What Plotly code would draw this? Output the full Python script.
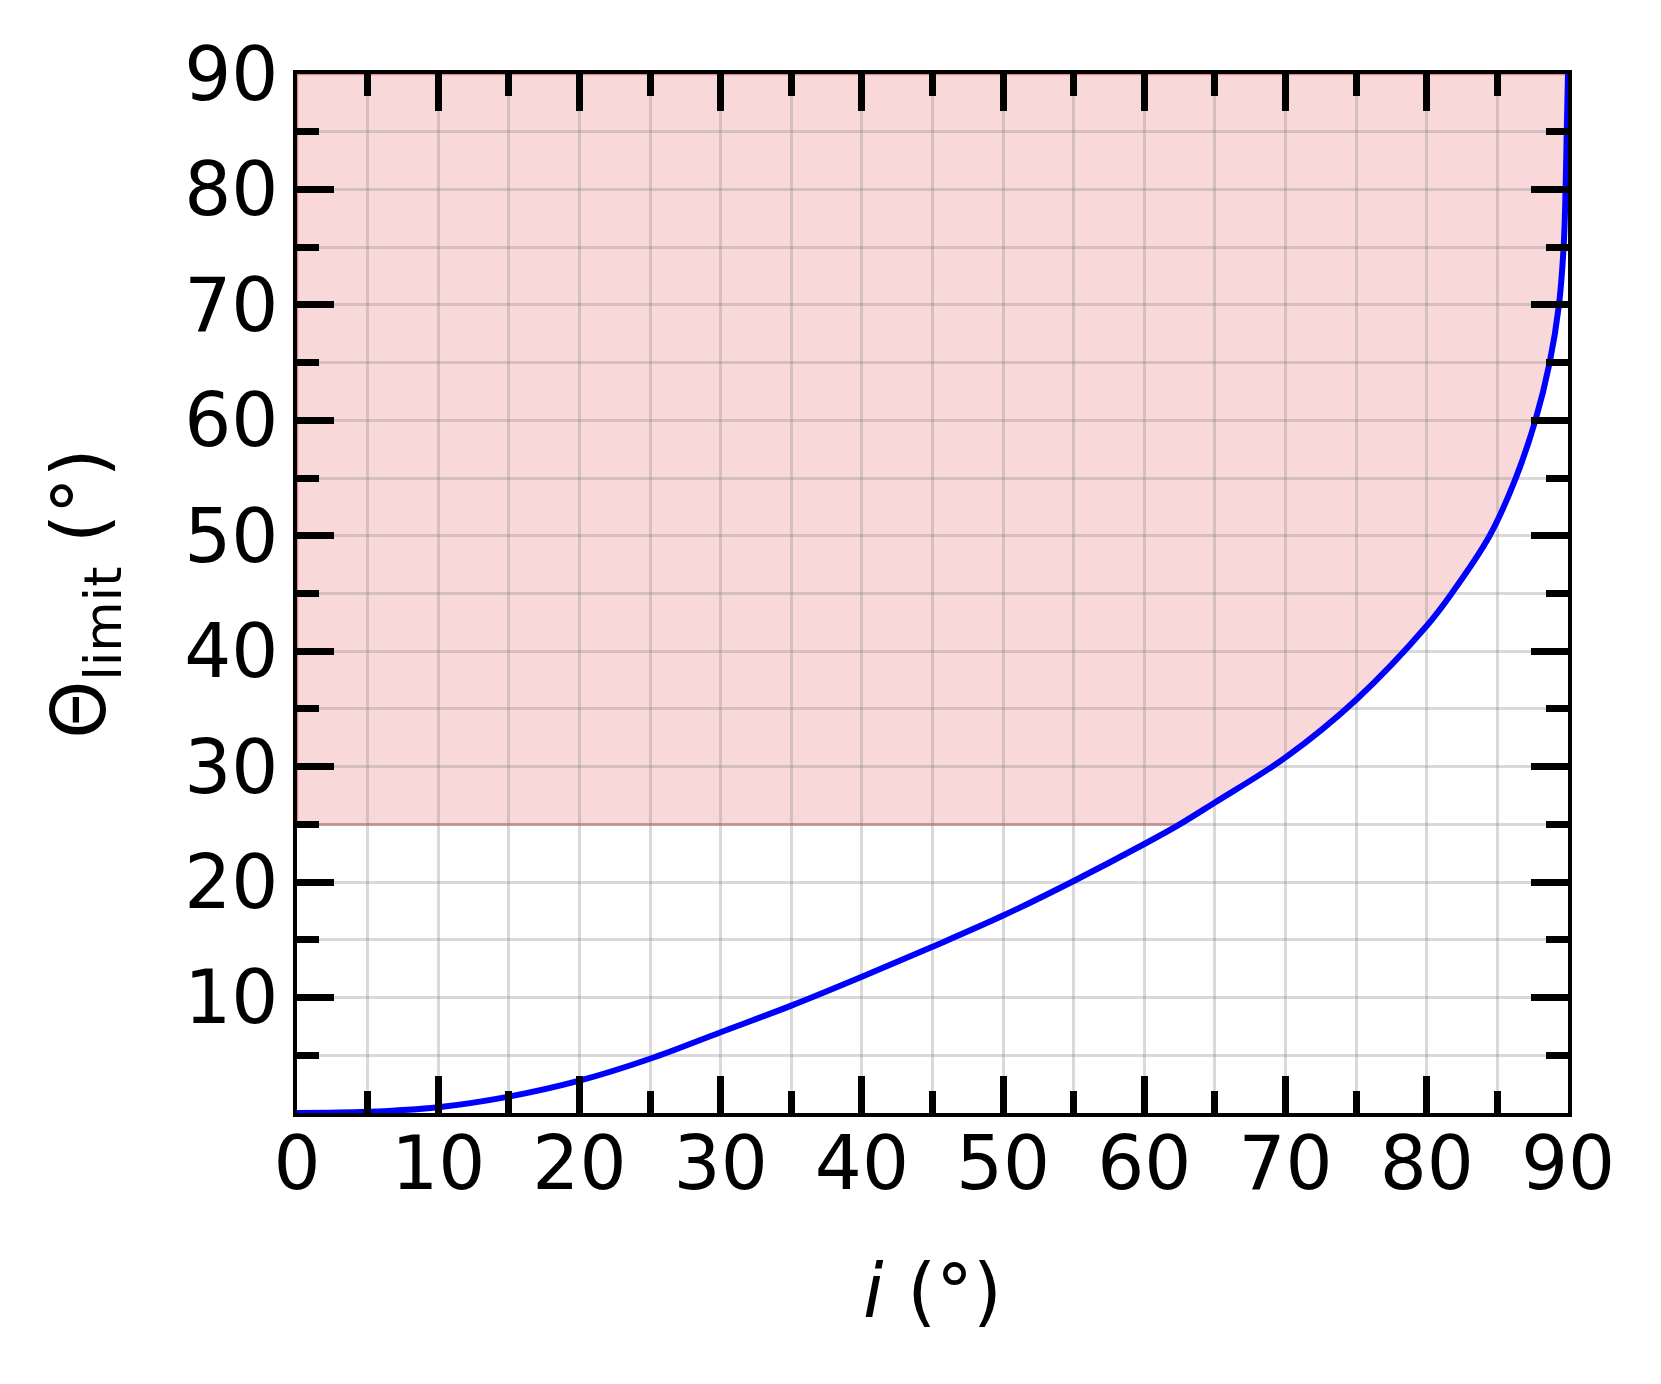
import plotly.graph_objects as go

# Incidence angle i (deg) and limiting angle Theta_limit (deg)
incidence = [0, 5, 10, 15, 20, 25, 30, 35, 40, 45, 50, 55, 60, 62.5, 65, 70, 75,
             80, 81.76, 84.45, 86.3, 87.69, 88.7, 89.36, 89.69, 89.83, 89.91, 90]
theta_limit = [0, 0.1, 0.5, 1.42, 2.8, 4.7, 7.0, 9.3, 11.8, 14.4, 17.1, 20.1, 23.3, 25.0,
               26.9, 30.8, 35.8, 42.2, 45.0, 50.0, 55.0, 60.0, 65.0, 70.0,
               75.0, 80.0, 85.0, 90.0]
threshold = 25.0
y_top = 90.0

x_ticks = [0, 10, 20, 30, 40, 50, 60, 70, 80, 90]
x_ticktext = ["0", "10", "20", "30", "40", "50", "60", "70", "80", "90"]
y_ticks = [0, 10, 20, 30, 40, 50, 60, 70, 80, 90]
y_ticktext = ["", "10", "20", "30", "40", "50", "60", "70", "80", "90"]

# shaded region: above both the threshold and the curve
lower = [max(t, threshold) for t in theta_limit]
pts = list(zip(incidence, lower)) + [(x, y_top) for x in incidence[::-1]]
path = "M " + " L ".join(f"{x},{y}" for x, y in pts) + " Z"

fig = go.Figure()
fig.add_shape(type="path", path=path, xref="x", yref="y", layer="below",
              fillcolor="rgba(222,60,60,0.2)",
              line=dict(color="rgba(205,90,90,0.6)", width=2.5))
fig.add_trace(go.Scatter(
    x=incidence, y=theta_limit, mode="lines",
    line=dict(color="#0000ff", width=6, shape="spline", smoothing=1.0),
    showlegend=False))

font_family = "DejaVu Sans"
grid_col = "rgba(128,128,128,0.3)"
axis_common = dict(
    range=[0, 90], showline=True, linecolor="black", linewidth=3.5,
    mirror="allticks", ticks="inside", ticklen=37, tickwidth=7, tickcolor="black",
    showgrid=False, zeroline=False,
    tickfont=dict(family=font_family, size=74, color="black"),
    minor=dict(tickmode="linear", tick0=0, dtick=5, ticks="inside", ticklen=22,
               tickwidth=7, tickcolor="black", showgrid=True, gridcolor=grid_col,
               gridwidth=2.5),
)

fig.update_xaxes(**axis_common, tickmode="array", tickvals=x_ticks, ticktext=x_ticktext,
                 ticklabelstandoff=-17,
                 title=dict(text="<i>i</i> (°)", font=dict(family=font_family, size=74,
                                                           color="black"), standoff=62))
fig.update_yaxes(**axis_common, tickmode="array", tickvals=y_ticks, ticktext=y_ticktext,
                 ticklabelstandoff=0,
                 title=dict(text="Θ<sub>limit</sub> (°)",
                            font=dict(family=font_family, size=74, color="black"),
                            standoff=55))

# the page body has an 8 px margin, so the figure is 16 px smaller than the window
fig.update_layout(
    width=1645, height=1368,
    margin=dict(l=289, r=85, t=66, b=263, autoexpand=False),
    paper_bgcolor="white", plot_bgcolor="white",
    font=dict(family=font_family, color="black"),
)

fig.write_html("out.html")
